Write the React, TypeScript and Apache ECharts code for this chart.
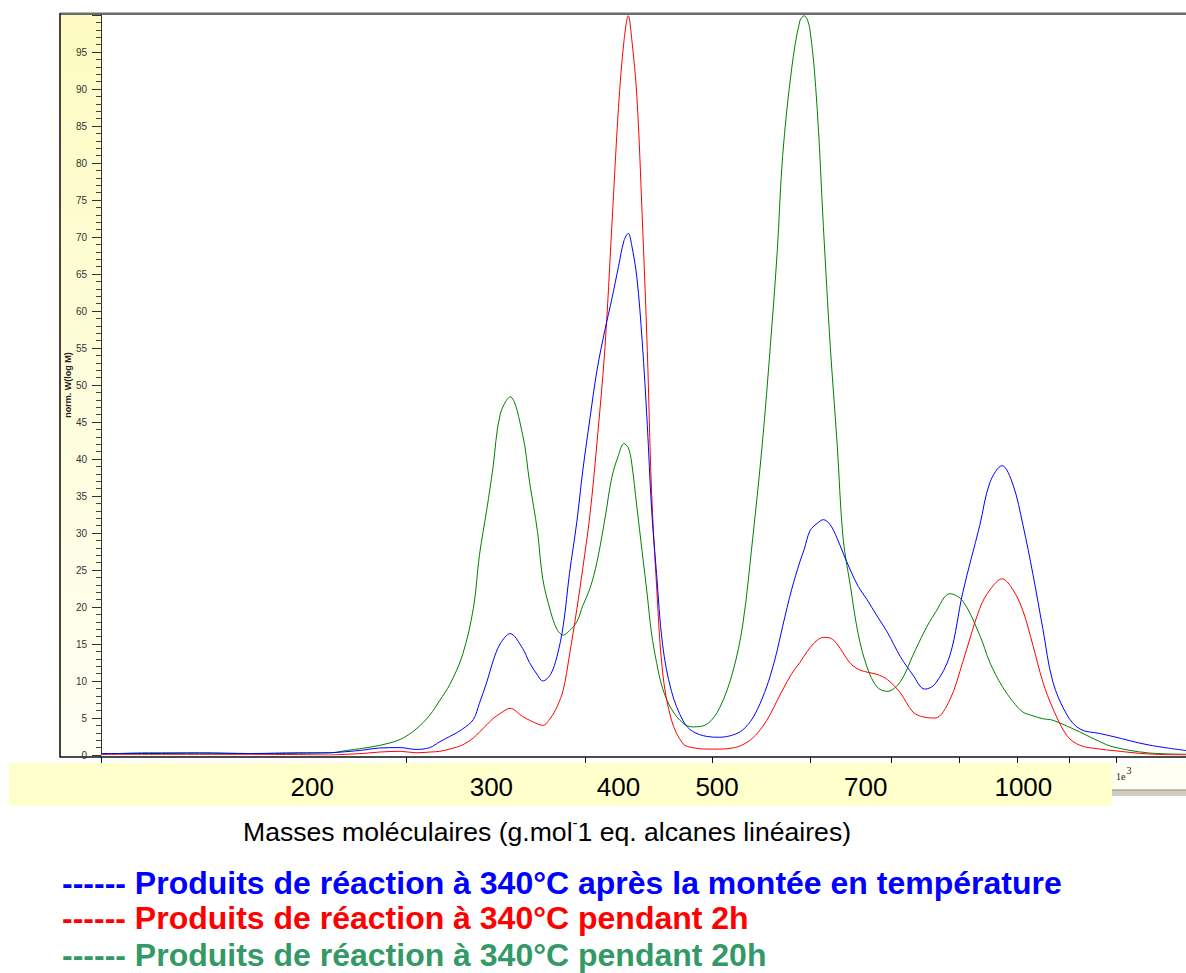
import React, { useEffect, useRef } from "react";
import * as echarts from "echarts";

// Molar mass in linear-alkane equivalent (g/mol), as on the slide's axis
const massAlkEq = [
  124, 138, 155, 174, 194, 208, 216, 224, 233, 244,
  253, 261, 267, 273, 281, 288, 292, 297, 301, 306,
  313, 322, 327, 333, 337, 343, 348, 353, 358, 364,
  369, 375, 381, 388, 394, 400, 405, 409, 412, 417,
  422, 427, 431, 436, 442, 451, 463, 473, 489, 503,
  518, 530, 542, 554, 564, 573, 580, 592, 603, 609,
  617, 627, 636, 646, 656, 665, 676, 688, 702, 718,
  735, 757, 779, 800, 819, 847, 872, 906, 927, 953,
  977, 999, 1022, 1045, 1069, 1104, 1137, 1189, 1225, 1323,
  1445,
];

// norm. W(log M) — after heating ramp (blue)
const blueValues = [
  0.2, 0.2, 0.25, 0.2, 0.25, 0.3, 0.45, 0.65, 0.95, 1.0,
  0.75, 1.0, 1.8, 2.5, 3.5, 4.8, 7.0, 9.9, 12.6, 15.0,
  16.4, 14.4, 12.5, 10.8, 10.0, 10.9, 13.3, 17.5, 24.5, 31.5,
  38.5, 45.5, 52.0, 57.5, 61.6, 66.0, 69.5, 70.5, 69.0, 64.5,
  56.0, 44.5, 33.5, 24.5, 14.9, 8.6, 4.6, 3.2, 2.5, 2.4,
  2.7, 3.4, 5.0, 7.7, 10.7, 14.2, 17.4, 22.4, 26.1, 27.8,
  30.3, 31.3, 31.8, 31.1, 29.3, 27.3, 25.0, 22.8, 21.0, 18.8,
  16.6, 13.3, 10.8, 8.9, 9.6, 13.5, 22.0, 31.0, 36.8, 39.1,
  36.5, 31.1, 24.4, 17.1, 9.9, 5.4, 3.5, 2.9, 2.5, 1.4,
  0.6,
];

// 2 h at 340 °C (red)
const redValues = [
  0.1, 0.1, 0.1, 0.1, 0.05, 0.0, 0.1, 0.2, 0.4, 0.5,
  0.3, 0.4, 0.5, 0.8, 1.35, 2.3, 3.1, 4.1, 4.9, 5.6,
  6.3, 5.2, 4.7, 4.2, 4.0, 5.0, 6.5, 8.8, 13.5, 19.7,
  25.3, 32.5, 42.2, 55.2, 71.4, 87.5, 96.5, 99.9, 97.0, 89.0,
  73.0, 54.5, 35.9, 22.9, 11.2, 4.7, 1.5, 1.0, 0.8, 0.8,
  0.95, 1.4, 2.3, 3.8, 5.5, 7.4, 8.8, 11.0, 12.5, 13.4,
  14.5, 15.5, 15.9, 15.8, 15.0, 13.8, 12.4, 11.6, 11.2, 10.9,
  10.2, 8.4, 5.8, 5.1, 5.0, 7.5, 12.6, 19.8, 22.3, 23.8,
  22.3, 19.5, 14.8, 9.9, 6.3, 2.6, 1.3, 0.8, 0.6, 0.15,
  0.0,
];

// 20 h at 340 °C (green)
const greenValues = [
  0.1, 0.3, 0.3, 0.2, 0.3, 0.3, 0.6, 0.9, 1.3, 2.1,
  3.5, 5.4, 7.4, 9.5, 13.5, 19.8, 27.0, 33.3, 38.7, 46.0,
  48.4, 43.3, 37.0, 30.2, 23.8, 19.4, 17.0, 16.2, 16.8, 18.0,
  20.2, 22.5, 26.1, 32.0, 37.5, 40.5, 42.1, 41.5, 39.6, 33.5,
  27.5, 21.5, 16.5, 12.5, 9.0, 6.2, 4.3, 3.8, 4.2, 6.4,
  11.2, 17.7, 29.3, 42.2, 55.2, 68.2, 81.0, 92.8, 99.2, 99.9,
  98.0, 87.5, 71.4, 55.2, 42.2, 29.3, 22.9, 16.4, 11.9, 9.2,
  8.6, 9.9, 13.5, 16.8, 19.2, 21.8, 20.8, 16.2, 12.5, 9.3,
  7.2, 5.8, 5.3, 4.9, 4.7, 3.9, 3.1, 1.8, 1.1, 0.3,
  0.1,
];

const seriesNames = [
  "Produits de réaction à 340°C après la montée en température",
  "Produits de réaction à 340°C pendant 2h",
  "Produits de réaction à 340°C pendant 20h",
];
const lineColors = ["#0000ff", "#ff0000", "#008000"];
const legendColors = ["#0000ff", "#ff0000", "#339966"];

// Slide's tick labels (alkane-equivalent masses) and the software's own ticks (g/mol)
const massLabels = [200, 300, 400, 500, 700, 1000];
const softwareTicks = [100, 200, 300, 400, 500, 600, 700, 800, 900, 1000];
const softwareExpLabel = [1000];
const slideAxisRange = [124, 1445];
const softwareAxisRange = [100, 1172];

const yMin = 0;
const yMax = 100;
const yStep = 5;

const xTitle = ["Masses moléculaires (g.mol", "-", "1 eq. alcanes linéaires)"];
const yTitle = "norm. W(log M)";

const FONT = '"Liberation Sans", Arial, sans-serif';

export default function App() {
  const ref = useRef<HTMLDivElement>(null);

  useEffect(() => {
    if (!ref.current) return;
    const chart = echarts.init(ref.current, undefined, { renderer: "svg" });

    const mk = (vals: number[]) => massAlkEq.map((m, i) => [Math.log10(m), vals[i]]);
    const seriesVals = [blueValues, redValues, greenValues];
    const order = [2, 1, 0];

    const option: any = {
      animation: false,
      backgroundColor: "#ffffff",
      grid: { left: 101, right: 0, top: 15, bottom: 218, containLabel: false },
      xAxis: [
        {
          type: "value",
          position: "bottom",
          offset: 2,
          min: Math.log10(slideAxisRange[0]),
          max: Math.log10(slideAxisRange[1]),
          axisLine: { show: false, onZero: false },
          axisTick: { show: false },
          splitLine: { show: false },
          axisLabel: {
            customValues: massLabels.map((m) => Math.log10(m)),
            formatter: (v: number) => String(Math.round(Math.pow(10, v))),
            fontSize: 26,
            color: "#000",
            fontFamily: FONT,
            margin: 17,
          },
        },
        {
          type: "value",
          position: "bottom",
          offset: 2,
          min: Math.log10(softwareAxisRange[0]),
          max: Math.log10(softwareAxisRange[1]),
          axisLine: { show: true, onZero: false, lineStyle: { color: "#111", width: 1.5 } },
          axisTick: {
            show: true,
            customValues: softwareTicks.map((m) => Math.log10(m)),
            length: 6,
            lineStyle: { color: "#111", width: 1 },
          },
          splitLine: { show: false },
          axisLabel: {
            customValues: softwareExpLabel.map((m) => Math.log10(m)),
            formatter: () => "{b|1e}{s|3}",
            align: "left",
            margin: 8,
            rich: {
              b: { fontSize: 10, fontFamily: '"Liberation Serif", serif', color: "#222", lineHeight: 16, verticalAlign: "bottom" },
              s: { fontSize: 10, fontFamily: '"Liberation Serif", serif', color: "#222", lineHeight: 10, verticalAlign: "top", padding: [0, 0, 0, 1] },
            },
          },
        },
      ],
      yAxis: {
        type: "value",
        min: yMin,
        max: yMax,
        interval: yStep,
        position: "left",
        name: yTitle,
        nameLocation: "middle",
        nameGap: 29,
        nameMoveOverlap: false,
        nameTextStyle: { fontSize: 9, fontWeight: "bold", color: "#222", fontFamily: FONT },
        axisLine: { show: true, onZero: false, lineStyle: { color: "#333", width: 1 } },
        axisTick: { show: true, length: 9, lineStyle: { color: "#333" } },
        minorTick: { show: true, splitNumber: 5, length: 5, lineStyle: { color: "#444" } },
        axisLabel: { fontSize: 10, color: "#333", fontFamily: FONT, margin: 14, showMaxLabel: false },
        splitLine: { show: false },
        minorSplitLine: { show: false },
      },
      series: order.map((i) => ({
        name: seriesNames[i],
        type: "line",
        xAxisIndex: 0,
        yAxisIndex: 0,
        data: mk(seriesVals[i]),
        showSymbol: false,
        smooth: 0.35,
        lineStyle: { color: lineColors[i], width: 1 },
        itemStyle: { color: lineColors[i] },
        z: 3,
      })),
      graphic: [
        {
          type: "rect",
          z: -10,
          shape: { x: 60, y: 14, width: 41, height: 743 },
          style: {
            fill: new echarts.graphic.LinearGradient(0, 0, 0, 1, [
              { offset: 0, color: "#fdfbc2" },
              { offset: 1, color: "#fffff4" },
            ]),
          },
        },
        { type: "line", z: -5, shape: { x1: 60, y1: 13, x2: 60, y2: 757.5 }, style: { stroke: "#4a4436", lineWidth: 2 } },
        { type: "line", z: -5, shape: { x1: 60, y1: 757, x2: 101, y2: 757 }, style: { stroke: "#111", lineWidth: 1.5 } },
        { type: "line", z: -5, shape: { x1: 60, y1: 12.5, x2: 1186, y2: 12.5 }, style: { stroke: "#b4b4b4", lineWidth: 1 } },
        { type: "line", z: -5, shape: { x1: 60, y1: 14, x2: 1186, y2: 14 }, style: { stroke: "#3a3a3a", lineWidth: 1.5 } },
        { type: "rect", z: -10, shape: { x: 9, y: 763, width: 1103, height: 43 }, style: { fill: "#ffffcc" } },
        { type: "rect", z: -10, shape: { x: 1112, y: 763, width: 74, height: 27 }, style: { fill: "#fffff2" } },
        { type: "rect", z: -10, shape: { x: 1112, y: 790, width: 74, height: 6 }, style: { fill: "#d2cbbf" } },
        { type: "line", z: -9, shape: { x1: 1112, y1: 790, x2: 1186, y2: 790 }, style: { stroke: "#8c8578", lineWidth: 1 } },
        {
          type: "text",
          z: 5,
          style: {
            x: 243,
            y: 830,
            verticalAlign: "middle",
            text: `{a|${xTitle[0]}}{s|${xTitle[1]}}{a|${xTitle[2]}}`,
            rich: {
              a: { fontSize: 26.6, fontFamily: FONT, fill: "#000", lineHeight: 30, verticalAlign: "bottom" },
              s: { fontSize: 15, fontFamily: FONT, fill: "#000", lineHeight: 15, verticalAlign: "top" },
            },
          },
        },
        ...seriesNames.map((name, i) => ({
          type: "text",
          z: 5,
          style: {
            x: 62,
            y: [883, 918, 955][i],
            verticalAlign: "middle",
            text: "------ " + name,
            fontSize: 32,
            fontWeight: "bold",
            fontFamily: FONT,
            fill: legendColors[i],
          },
        })),
      ],
    };

    chart.setOption(option);
    return () => chart.dispose();
  }, []);

  return (
    <div
      ref={ref}
      style={{ position: "absolute", left: 0, top: 0, width: 1186, height: 973, background: "#fff" }}
    />
  );
}
